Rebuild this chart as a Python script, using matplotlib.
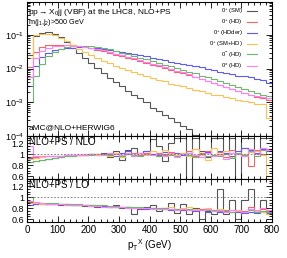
import numpy as np
import matplotlib
matplotlib.use('Agg')
import matplotlib.pyplot as plt
from matplotlib.ticker import LogLocator, MultipleLocator, NullFormatter

plt.rcParams['font.family'] = ['Liberation Sans', 'DejaVu Sans']
plt.rcParams['mathtext.fontset'] = 'custom'
plt.rcParams['mathtext.rm'] = 'Liberation Sans'
plt.rcParams['mathtext.it'] = 'Liberation Sans'

# bin edges in pT (GeV), 20 GeV bins
edges = np.arange(0, 820, 20)

labels = ['0$^{+}$ (SM)', '0$^{+}$ (HD)', '0$^{+}$ (HDder)', '0$^{+}$ (SM+HD)',
          '0$^{-}$ (HD)', '0$^{\\pm}$ (HD)']
colors = ['#555555', '#ff6060', '#5a5aff', '#ffc050', '#6cb86c', '#ff80ff']

# main panel: normalised distributions
sm = [0.025, 0.095, 0.115, 0.12, 0.11, 0.085, 0.06, 0.042, 0.03, 0.021,
      0.015, 0.0105, 0.0075, 0.0052, 0.0040, 0.0030, 0.0022, 0.0017, 0.0013, 0.0010,
      7e-4, 5.5e-4, 4.2e-4, 3.4e-4, 2.6e-4, 2.0e-4, 1.6e-4, 1.1e-4, 8e-5, 6e-5,
      5e-5, 5e-5, 4e-5, 4e-5, 3e-5, 3e-5, 3e-5, 2e-5, 2e-5, 2e-5]
hd = [0.011, 0.032, 0.045, 0.05, 0.052, 0.052, 0.051, 0.049, 0.046, 0.043,
      0.040, 0.036, 0.033, 0.03, 0.026, 0.023, 0.021, 0.019, 0.017, 0.015,
      0.013, 0.012, 0.0105, 0.0093, 0.0082, 0.0072, 0.0063, 0.0055, 0.0048, 0.0042,
      0.0037, 0.0032, 0.0028, 0.0025, 0.0021, 0.0019, 0.0016, 0.0014, 0.0013, 0.0012]
hdder = [0.003, 0.012, 0.022, 0.03, 0.035, 0.038, 0.04, 0.042, 0.043, 0.043,
         0.042, 0.041, 0.039, 0.036, 0.034, 0.032, 0.030, 0.027, 0.025, 0.023,
         0.021, 0.019, 0.018, 0.016, 0.015, 0.014, 0.013, 0.012, 0.011, 0.0095,
         0.0088, 0.0082, 0.0075, 0.007, 0.0062, 0.006, 0.0055, 0.005, 0.0045, 0.0038]
smhd = [0.02, 0.10, 0.11, 0.11, 0.10, 0.083, 0.065, 0.05, 0.038, 0.031,
        0.025, 0.021, 0.017, 0.0145, 0.012, 0.0105, 0.009, 0.0078, 0.0068, 0.006,
        0.0053, 0.0047, 0.0042, 0.0036, 0.0033, 0.003, 0.0027, 0.0024, 0.0021, 0.0019,
        0.0017, 0.0016, 0.0014, 0.0013, 0.0012, 0.0011, 0.0010, 0.0009, 0.0009, 0.00035]
odd = [0.001, 0.006, 0.014, 0.024, 0.032, 0.038, 0.043, 0.046, 0.048, 0.048,
       0.047, 0.045, 0.042, 0.038, 0.034, 0.030, 0.027, 0.024, 0.021, 0.019,
       0.017, 0.015, 0.013, 0.012, 0.0105, 0.0093, 0.0082, 0.0072, 0.0062, 0.0055,
       0.0048, 0.0042, 0.0037, 0.0032, 0.0028, 0.0025, 0.0022, 0.0019, 0.0017, 0.0015]
mix = [0.0055, 0.02, 0.033, 0.041, 0.046, 0.048, 0.049, 0.048, 0.046, 0.044,
       0.041, 0.038, 0.035, 0.031, 0.028, 0.025, 0.022, 0.02, 0.018, 0.016,
       0.014, 0.0125, 0.011, 0.0098, 0.0087, 0.0077, 0.0067, 0.0058, 0.005, 0.0044,
       0.0038, 0.0033, 0.0029, 0.0025, 0.0022, 0.0019, 0.0017, 0.0015, 0.0014, 0.0013]

# NLO+PS / NLO
r1_sm = [0.86, 0.87, 0.90, 0.92, 0.93, 0.95, 0.96, 0.97, 0.98, 0.99,
         1.00, 0.98, 1.02, 0.95, 1.05, 0.90, 1.08, 1.12, 0.98, 1.05,
         1.28, 1.15, 0.88, 1.20, 1.30, 1.30, 0.00, 1.30, 1.05, 0.95,
         1.30, 1.30, 1.00, 1.30, 0.00, 1.30, 1.30, 1.00, 1.30, 1.30]
r1_hd = [0.95, 0.95, 0.96, 0.96, 0.97, 0.97, 0.98, 0.98, 0.99, 0.99,
         1.00, 1.00, 1.01, 1.00, 1.02, 0.99, 1.01, 1.03, 0.98, 1.02,
         1.00, 1.03, 0.99, 1.04, 0.98, 1.02, 1.05, 0.97, 1.03, 1.06,
         0.98, 1.04, 0.95, 1.07, 1.00, 1.12, 0.78, 1.08, 1.00, 1.10]
r1_hdder = [0.93, 0.94, 0.95, 0.96, 0.96, 0.97, 0.98, 0.98, 0.99, 0.99,
            1.00, 1.01, 1.00, 1.02, 0.97, 1.03, 1.05, 0.98, 1.02, 1.06,
            1.01, 0.98, 1.04, 1.00, 1.03, 0.99, 1.02, 1.10, 1.00, 1.04,
            0.98, 1.06, 1.02, 0.97, 1.05, 1.12, 1.08, 1.03, 1.10, 1.05]
r1_smhd = [0.92, 0.93, 0.95, 0.96, 0.97, 0.97, 0.98, 0.98, 0.99, 1.00,
           1.00, 0.99, 1.01, 0.97, 1.03, 0.95, 1.00, 0.96, 1.02, 0.99,
           1.05, 0.97, 1.08, 1.00, 0.98, 1.03, 0.96, 1.10, 0.99, 0.90,
           1.12, 0.98, 1.05, 0.95, 1.02, 1.00, 1.04, 1.06, 0.99, 0.60]
r1_odd = [0.85, 0.88, 0.90, 0.92, 0.94, 0.95, 0.96, 0.97, 0.98, 0.98,
          0.99, 1.00, 1.00, 0.98, 1.01, 0.97, 1.00, 0.99, 0.97, 1.01,
          0.98, 0.97, 1.00, 0.99, 0.96, 1.00, 0.98, 0.95, 1.01, 0.97,
          0.99, 0.96, 1.00, 0.93, 1.02, 0.98, 1.05, 0.97, 1.08, 1.00]
r1_mix = [1.15, 0.97, 0.96, 0.97, 0.97, 0.97, 0.98, 0.98, 0.99, 0.99,
          1.00, 1.01, 0.99, 1.02, 1.00, 0.98, 1.02, 0.97, 1.03, 1.00,
          0.99, 1.01, 0.96, 1.03, 0.95, 1.00, 1.02, 0.98, 0.95, 1.03,
          0.97, 1.00, 0.92, 1.03, 1.00, 0.96, 1.10, 1.00, 1.12, 1.08]

# NLO+PS / LO
r2_sm = [0.92, 0.88, 0.87, 0.87, 0.87, 0.86, 0.86, 0.85, 0.85, 0.84,
         0.84, 0.83, 0.84, 0.82, 0.86, 0.80, 0.83, 0.70, 0.78, 0.82,
         0.85, 0.75, 0.80, 0.90, 0.72, 0.88, 0.70, 0.80, 0.60, 0.75,
         0.70, 1.15, 0.70, 0.95, 0.60, 0.95, 1.15, 0.75, 0.95, 0.70]
r2_hd = [0.90, 0.90, 0.89, 0.88, 0.88, 0.87, 0.87, 0.86, 0.86, 0.85,
         0.85, 0.84, 0.84, 0.83, 0.83, 0.82, 0.82, 0.81, 0.81, 0.80,
         0.80, 0.79, 0.80, 0.78, 0.79, 0.77, 0.78, 0.77, 0.79, 0.76,
         0.77, 0.76, 0.75, 0.77, 0.76, 0.75, 0.82, 0.74, 0.78, 0.75]
r2_hdder = [0.85, 0.88, 0.88, 0.88, 0.87, 0.87, 0.87, 0.86, 0.86, 0.85,
            0.85, 0.84, 0.84, 0.83, 0.83, 0.82, 0.82, 0.80, 0.81, 0.79,
            0.80, 0.78, 0.79, 0.77, 0.78, 0.76, 0.77, 0.75, 0.76, 0.74,
            0.75, 0.74, 0.73, 0.74, 0.73, 0.72, 0.74, 0.72, 0.73, 0.72]
r2_smhd = [0.90, 0.89, 0.88, 0.88, 0.87, 0.87, 0.86, 0.86, 0.85, 0.85,
           0.84, 0.84, 0.83, 0.83, 0.82, 0.82, 0.81, 0.81, 0.80, 0.81,
           0.79, 0.80, 0.78, 0.82, 0.77, 0.80, 0.83, 0.78, 0.76, 0.80,
           0.75, 0.78, 0.76, 0.74, 0.76, 0.73, 0.77, 0.75, 0.74, 0.70]
r2_odd = [1.00, 0.92, 0.90, 0.89, 0.89, 0.88, 0.88, 0.87, 0.87, 0.86,
          0.86, 0.85, 0.85, 0.84, 0.84, 0.83, 0.83, 0.82, 0.82, 0.81,
          0.81, 0.80, 0.80, 0.79, 0.79, 0.78, 0.78, 0.77, 0.77, 0.76,
          0.76, 0.75, 0.76, 0.74, 0.75, 0.74, 0.76, 0.74, 0.75, 0.74]
r2_mix = [0.94, 0.91, 0.89, 0.88, 0.87, 0.87, 0.86, 0.86, 0.85, 0.85,
          0.84, 0.84, 0.83, 0.83, 0.82, 0.82, 0.81, 0.81, 0.80, 0.80,
          0.79, 0.79, 0.78, 0.79, 0.77, 0.78, 0.76, 0.77, 0.76, 0.79,
          0.75, 0.77, 0.74, 0.76, 0.75, 0.74, 0.78, 0.76, 0.80, 0.77]

main_series = [sm, hd, hdder, smhd, odd, mix]
ratio1_series = [r1_sm, r1_hd, r1_hdder, r1_smhd, r1_odd, r1_mix]
ratio2_series = [r2_sm, r2_hd, r2_hdder, r2_smhd, r2_odd, r2_mix]

W, H = 287, 258
fig = plt.figure(figsize=(W / 100, H / 100), dpi=100)

def px_axes(x0, y0, x1, y1):
    return fig.add_axes([x0 / W, 1 - y1 / H, (x1 - x0) / W, (y1 - y0) / H])

ax = px_axes(27, 2, 272, 136)
ax1 = px_axes(27, 136, 272, 179)
ax2 = px_axes(27, 179, 272, 222)

fs = 7
for a in (ax, ax1, ax2):
    a.set_xlim(0, 800)
    a.tick_params(which='both', direction='in', top=True, right=True, labelsize=fs,
                  width=0.6, pad=2)
    a.tick_params(axis='y', labelsize=6.5)
    a.tick_params(which='major', length=4)
    a.tick_params(which='minor', length=2)
    a.xaxis.set_major_locator(MultipleLocator(100))
    a.xaxis.set_minor_locator(MultipleLocator(20))
    for s in a.spines.values():
        s.set_linewidth(0.8)

# main panel
for vals, c, lab in zip(main_series, colors, labels):
    ax.stairs(vals, edges, color=c, lw=0.8, label=lab, baseline=None)
ax.set_yscale('log')
ax.set_ylim(1e-4, 0.95)
ax.yaxis.set_major_locator(LogLocator(base=10, numticks=10))
ax.yaxis.set_minor_locator(LogLocator(base=10, subs=np.arange(2, 10), numticks=20))
ax.yaxis.set_minor_formatter(NullFormatter())
ax.tick_params(labelbottom=False)

ax.text(0.005, 0.925, 'pp$\\rightarrow$X$_0$jj (VBF) at the LHC8, NLO+PS',
        transform=ax.transAxes, fontsize=6, va='center', ha='left')
ax.text(0.005, 0.85, 'm(j$_1$,j$_2$)>500 GeV', transform=ax.transAxes,
        fontsize=5.2, va='center', ha='left')
ax.text(0.005, 0.06, 'aMC@NLO+HERWIG6', transform=ax.transAxes,
        fontsize=6, va='center', ha='left')

leg = ax.legend(loc='upper right', bbox_to_anchor=(0.94, 0.965), frameon=False,
                fontsize=4.2, markerfirst=False, handlelength=1.8,
                labelspacing=0.3, handletextpad=0.7, borderaxespad=0.0,
                borderpad=0.0)
for t in leg.get_texts():
    t.set_ha('right')

# ratio panels
for a, series, txt in ((ax1, ratio1_series, 'NLO+PS / NLO'),
                       (ax2, ratio2_series, 'NLO+PS / LO')):
    for vals, c in zip(series, colors):
        a.stairs(vals, edges, color=c, lw=0.8, baseline=None)
    a.axhline(1.0, color='0.45', lw=0.6, ls=(0, (2, 2)))
    a.set_ylim(0.55, 1.33)
    a.yaxis.set_major_locator(MultipleLocator(0.2))
    a.yaxis.set_minor_locator(MultipleLocator(0.05))
    a.yaxis.set_major_formatter(plt.FuncFormatter(lambda v, p: '%g' % round(v, 2)))
    a.text(0.01, 0.87, txt, transform=a.transAxes, fontsize=fs,
           va='center', ha='left')

ax1.tick_params(labelbottom=False)
ax2.set_xlabel('p$_T$$^X$ (GeV)', fontsize=fs, labelpad=2)

fig.savefig('out.png', dpi=100)
